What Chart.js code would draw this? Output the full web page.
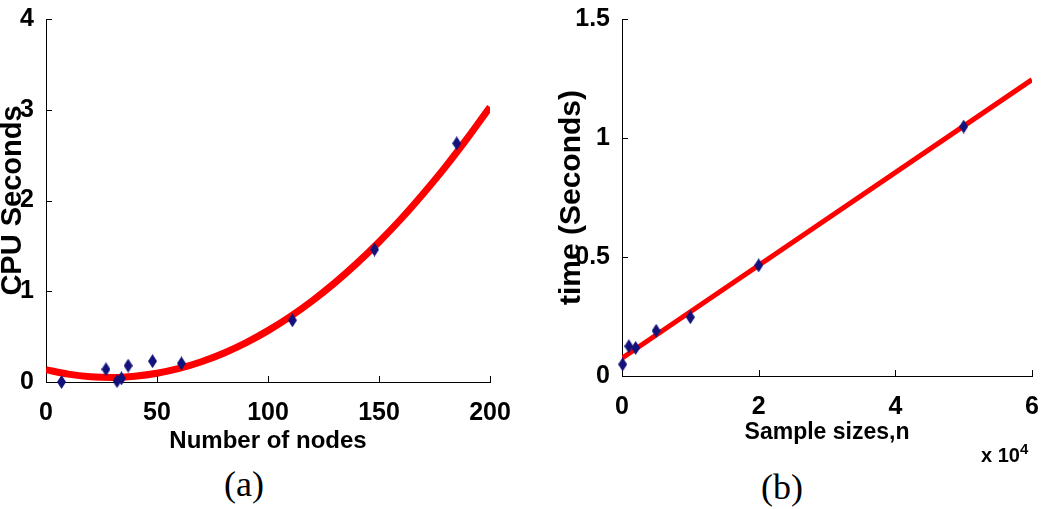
<!DOCTYPE html>
<html>
<head>
<meta charset="utf-8">
<script src="https://cdn.jsdelivr.net/npm/chart.js@4"></script>
<style>
  body { margin: 0; background: #fff; width: 1050px; height: 509px; overflow: hidden; position: relative; }
  #wrapA { position: absolute; left: -5px; top: 0; }
  #wrapB { position: absolute; left: 540px; top: 0; }
  .cap { position: absolute; font-family: 'Liberation Serif', 'Times New Roman', serif; font-size: 36px; line-height: 36px; transform: translateX(-50%); }
  #expo { position: absolute; left: 981px; top: 440px; font-family: 'Liberation Sans', Arial, sans-serif; font-weight: bold; font-size: 20px; }
  #expo sup { font-size: 15px; }
</style>
</head>
<body>
<div id="wrapA"><canvas id="chartA" width="525" height="460"></canvas></div>
<div id="wrapB"><canvas id="chartB" width="510" height="460"></canvas></div>
<div class="cap" style="left:244px;top:466px">(a)</div>
<div class="cap" style="left:782px;top:469px">(b)</div>
<div id="expo">x 10<sup>4</sup></div>
<script>
// (a) CPU time vs number of nodes
const nodes = [7, 27, 32, 34, 37, 48, 61, 111, 148, 185];
const cpuSeconds = [0.0, 0.14, 0.01, 0.04, 0.18, 0.23, 0.205, 0.68, 1.46, 2.63];
const fitNodes = [0, 10, 20, 30, 40, 50, 60, 70, 80, 90, 100, 110, 120, 130, 140, 150, 160, 170, 180, 190, 200];
const fitCpu = [0.135, 0.087, 0.059, 0.05, 0.064, 0.096, 0.149, 0.223, 0.317, 0.431, 0.566, 0.72, 0.896, 1.091, 1.307, 1.543, 1.799, 2.077, 2.373, 2.692, 3.03];
const nodeTicks = [0, 50, 100, 150, 200];
const cpuTicks = [0, 1, 2, 3, 4];

// (b) time vs sample size
const sampleSizes = [100, 1000, 2000, 5000, 10000, 20000, 50000];
const times = [0.049, 0.125, 0.118, 0.19, 0.247, 0.465, 1.048];
const fitSizes = [0, 60000];
const fitTimes = [0.075, 1.245];
const sizeTicks = [0, 20000, 40000, 60000];
const timeTicks = [0, 0.5, 1, 1.5];

const family = "'Liberation Sans', Arial, sans-serif";
const tickFont = { family: family, weight: 'bold', size: 25 };

// tall thin diamond marker
function diamond() {
  var c = document.createElement('canvas');
  c.width = 9; c.height = 14;
  var g = c.getContext('2d');
  g.fillStyle = '#12127a';
  g.beginPath();
  g.moveTo(4.5, 0); g.lineTo(9, 7); g.lineTo(4.5, 14); g.lineTo(0, 7);
  g.closePath();
  g.fill();
  return c;
}
const marker = diamond();

// small tick marks pointing into the plot
const innerTicks = {
  id: 'innerTicks',
  afterDraw(chart) {
    var ctx = chart.ctx, a = chart.chartArea;
    var x = chart.scales.x, y = chart.scales.y;
    ctx.save();
    ctx.strokeStyle = '#000';
    ctx.lineWidth = 1;
    ctx.beginPath();
    x.ticks.forEach(function(t) {
      if (t.value === x.min) return;
      var px = Math.round(x.getPixelForValue(t.value)) + 0.5;
      ctx.moveTo(px, a.bottom); ctx.lineTo(px, a.bottom - 6);
    });
    y.ticks.forEach(function(t) {
      if (t.value === y.min) return;
      var py = Math.round(y.getPixelForValue(t.value)) + 0.5;
      ctx.moveTo(a.left, py); ctx.lineTo(a.left + 6, py);
    });
    ctx.stroke();
    ctx.restore();
  }
};

function makeChart(id, opts) {
  return new Chart(document.getElementById(id), {
    type: 'scatter',
    data: {
      datasets: [{
        data: opts.px.map((v, i) => ({ x: v, y: opts.py[i] })),
        pointStyle: marker,
        pointRadius: 5,
        clip: false,
        order: 0
      }, {
        type: 'line',
        data: opts.lx.map((v, i) => ({ x: v, y: opts.ly[i] })),
        borderColor: '#ff0000',
        borderWidth: opts.lw,
        pointRadius: 0,
        tension: 0.4,
        cubicInterpolationMode: 'monotone',
        fill: false,
        order: 1
      }]
    },
    options: {
      responsive: false,
      animation: false,
      layout: { padding: opts.pad },
      plugins: { legend: { display: false }, tooltip: { enabled: false } },
      scales: {
        x: {
          type: 'linear', min: opts.xt[0], max: opts.xt[opts.xt.length - 1],
          afterBuildTicks: s => { s.ticks = opts.xt.map(v => ({ value: v })); },
          afterFit: s => { s.height = opts.xh; },
          grid: { display: false },
          border: { display: true, color: '#000', width: 1 },
          ticks: { color: '#000', font: tickFont, padding: 8, maxRotation: 0,
                   callback: opts.xfmt || (v => String(v)) },
          title: { display: true, text: opts.xtitle, color: '#000',
                   font: { family: family, weight: 'bold', size: opts.xts, lineHeight: 1 },
                   padding: { top: 0, bottom: opts.xtpad } }
        },
        y: {
          type: 'linear', min: opts.yt[0], max: opts.yt[opts.yt.length - 1],
          afterBuildTicks: s => { s.ticks = opts.yt.map(v => ({ value: v })); },
          afterFit: s => { s.width = opts.yw; },
          grid: { display: false },
          border: { display: true, color: '#000', width: 1 },
          ticks: { color: '#000', font: tickFont, padding: 4, callback: v => String(v) },
          title: { display: true, text: opts.ytitle, color: '#000',
                   font: { family: family, weight: 'bold', size: opts.yts, lineHeight: 1 },
                   padding: { top: opts.ytpad, bottom: 0 } }
        }
      }
    },
    plugins: [innerTicks]
  });
}

makeChart('chartA', {
  px: nodes, py: cpuSeconds, lx: fitNodes, ly: fitCpu, lw: 7,
  xt: nodeTicks, yt: cpuTicks,
  xtitle: 'Number of nodes', ytitle: 'CPU Seconds',
  pad: { top: 17, right: 30, left: 0, bottom: 0 },
  xh: 78, yw: 51, xtpad: 7, ytpad: 3, xts: 24, yts: 29
});

makeChart('chartB', {
  px: sampleSizes, py: times, lx: fitSizes, ly: fitTimes, lw: 5,
  xt: sizeTicks, yt: timeTicks,
  xfmt: v => String(v / 10000),
  xtitle: 'Sample sizes,n', ytitle: 'time (Seconds)',
  pad: { top: 17, right: 18, left: 0, bottom: 0 },
  xh: 84, yw: 82, xtpad: 16, ytpad: 17, xts: 23, yts: 30
});
</script>
</body>
</html>
